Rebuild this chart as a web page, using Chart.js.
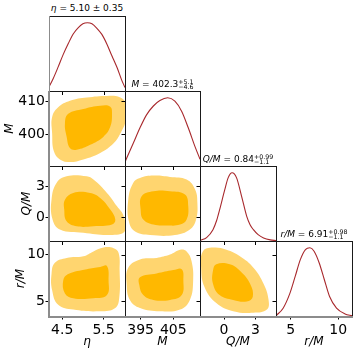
<!DOCTYPE html>
<html><head><meta charset="utf-8">
<script src="https://cdn.jsdelivr.net/npm/chart.js@4.4.1/dist/chart.umd.min.js"></script>
<style>
html,body{margin:0;padding:0;background:#fff;}
#fig{position:relative;width:357px;height:355px;overflow:hidden;background:#fff;}
#fig canvas{position:absolute;}
.ttl{position:absolute;font-family:"DejaVu Sans";font-size:9px;line-height:9px;white-space:nowrap;transform:translateX(-50%);color:#000;}
.ss{display:inline-block;vertical-align:-2.5px;font-size:6.3px;line-height:5px;text-align:left;}
.ss span{display:block;}
</style></head>
<body><div id="fig"></div>
<script>
// ---------------- data ----------------
const labels = ['η', 'M', 'Q/M', 'r/M'];
const ranges = [[4.18, 6.02], [390.2, 413.2], [-2.3, 4.97], [3.45, 11.45]];
const xTickVals = [[4.5, 5.5], [395, 405], [0, 3], [5, 10]];
const yTickVals = [[], [400, 410], [0, 3], [5, 10]];

const titleMain = ['5.10', '402.3', '0.84', '6.91'];
const titleErr = [['0.35'], ['+5.1', '−4.6'], ['+0.99', '−1.1'], ['+0.98', '−1.1']];

// 1D marginals (relative density, peak = 1)
const etaGrid = [4.18, 4.28, 4.40, 4.52, 4.65, 4.77, 4.89, 5.00, 5.11, 5.22, 5.34, 5.46, 5.58, 5.70, 5.83, 5.94, 6.02];
const etaPdf  = [0.06, 0.18, 0.35, 0.53, 0.70, 0.84, 0.93, 0.985, 1.0, 0.985, 0.92, 0.83, 0.69, 0.52, 0.34, 0.16, 0.05];
const mGrid = [390.2, 392.7, 394.8, 396.8, 398.9, 400.9, 403.3, 405.5, 407.6, 409.6, 411.7, 413.2];
const mPdf  = [0.06, 0.33, 0.56, 0.75, 0.88, 0.96, 1.0, 0.95, 0.80, 0.56, 0.28, 0.10];
const qGrid = [-2.26, -1.67, -1.06, -0.71, -0.42, 0.07, 0.39, 0.77, 1.20, 1.68, 2.17, 2.49, 2.81, 3.26, 3.78, 4.42, 4.97];
const qPdf  = [0.01, 0.05, 0.166, 0.30, 0.46, 0.754, 0.926, 1.0, 0.926, 0.656, 0.362, 0.24, 0.166, 0.093, 0.044, 0.016, 0.007];
const rGrid = [3.45, 4.20, 4.92, 5.47, 6.01, 6.55, 7.02, 7.46, 8.00, 8.54, 9.09, 9.82, 10.72, 11.45];
const rPdf  = [0.005, 0.114, 0.335, 0.58, 0.827, 0.975, 1.0, 0.95, 0.778, 0.532, 0.285, 0.114, 0.03, 0.005];

// 2D credible regions (outer = 95%, inner = 68%), vertices [x, y]
const etaM_outer = [[4.256,405.2],[4.402,408.2],[4.688,410.2],[5.095,411.2],[5.583,411.7],[5.907,411.2],[6.04,409.2],[6.04,404.2],[5.907,400.2],[5.744,397.2],[5.420,394.2],[5.012,392.2],[4.688,391.4],[4.444,392.2],[4.298,394.7],[4.256,400.2]];
const etaM_inner = [[4.646,406.2],[5.012,407.7],[5.420,408.7],[5.663,408.4],[5.705,406.2],[5.663,402.2],[5.50,399.2],[5.176,396.7],[4.851,395.2],[4.688,395.7],[4.607,399.2],[4.566,403.2]];
const etaQ_outer = [[4.363,3.33],[4.607,3.97],[5.095,3.97],[5.256,3.65],[5.583,2.36],[5.827,1.06],[5.988,0.10],[6.017,-1.36],[5.663,-1.72],[5.012,-1.51],[4.444,-1.19],[4.266,-0.22],[4.241,1.71]];
const etaQ_inner = [[4.566,1.71],[4.768,2.36],[5.176,2.36],[5.420,1.88],[5.663,0.75],[5.785,-0.22],[5.705,-0.71],[5.256,-0.87],[4.851,-0.87],[4.607,-0.39],[4.549,0.75]];
const mQ_outer = [[391.2,1.71],[392.7,3.33],[394.8,3.81],[398.9,4.04],[404.0,3.91],[409.1,3.65],[411.7,2.68],[412.4,1.39],[412.0,-0.22],[410.1,-1.19],[405.5,-1.72],[397.9,-1.72],[393.3,-1.38],[391.4,-0.42]];
const mQ_inner = [[395.3,2.03],[398.9,2.52],[404.0,2.52],[408.6,2.20],[409.6,1.06],[409.1,-0.22],[407.1,-0.71],[403.0,-0.80],[398.9,-0.71],[395.8,-0.22],[395.0,0.75]];
const etaR_outer = [[4.322,9.13],[4.607,9.65],[5.012,9.82],[5.256,10.34],[5.50,10.75],[5.744,10.68],[5.866,10.17],[5.890,8.27],[5.883,5.51],[5.785,4.31],[5.420,3.96],[4.768,4.14],[4.402,4.65],[4.256,6.20],[4.241,7.93]];
const etaR_inner = [[4.646,7.93],[5.095,8.45],[5.420,8.69],[5.583,8.79],[5.622,7.24],[5.583,5.69],[5.256,5.35],[4.768,5.35],[4.566,5.86],[4.524,7.24]];
const mR_outer = [[391.2,8.61],[394.8,9.48],[399.9,9.65],[404.0,10.0],[407.1,10.52],[409.1,10.34],[410.6,9.31],[411.1,7.24],[410.1,5.17],[407.1,4.14],[400.9,3.96],[394.8,4.31],[391.7,5.17],[390.7,6.90]];
const mR_inner = [[394.8,7.58],[399.9,7.99],[405.0,8.35],[407.6,8.45],[408.1,7.24],[407.6,5.69],[404.0,5.17],[398.9,5.17],[395.8,5.69],[394.6,6.72]];
const qR_outer = [[-2.03,10.34],[-1.06,10.75],[0.23,10.52],[1.52,9.82],[2.81,8.61],[3.78,6.90],[4.26,5.17],[4.10,4.14],[2.81,3.80],[0.87,3.96],[-0.74,4.83],[-1.87,6.55],[-2.19,8.61]];
const qR_inner = [[-0.74,8.97],[0.55,8.97],[1.52,8.27],[2.49,6.90],[2.75,5.51],[2.17,5.0],[0.87,5.17],[-0.42,5.69],[-1.06,6.90],[-1.06,8.27]];

// ---------------- layout & style ----------------
const colL = [49, 125, 200, 276], colR = [125, 200, 276, 352];
const rowT = [16, 91, 166, 241], rowB = [91, 166, 241, 316];
const yLabelCenter = [0, 10, 27, 21];
const DARK = '#ffb800', LIGHT = '#ffd56f', RED = '#a8282c';
const FONT = 'DejaVu Sans';

const pdfs = [[etaGrid, etaPdf], [mGrid, mPdf], [qGrid, qPdf], [rGrid, rPdf]];
const contours = {
  '1,0': [etaM_inner, etaM_outer], '2,0': [etaQ_inner, etaQ_outer], '2,1': [mQ_inner, mQ_outer],
  '3,0': [etaR_inner, etaR_outer], '3,1': [mR_inner, mR_outer], '3,2': [qR_inner, qR_outer]
};

const fig = document.getElementById('fig');

const framePlugin = {
  id: 'frame',
  afterDraw(chart, args, o) {
    const c = chart.ctx, a = chart.chartArea;
    const L = a.left, R = a.right, T = a.top, B = a.bottom;
    c.save();
    c.lineWidth = 1; c.strokeStyle = '#000';
    c.beginPath();
    (o.inX || []).forEach(v => { const p = Math.round(chart.scales.x.getPixelForValue(v)) + 0.5; c.moveTo(p, T); c.lineTo(p, T + 4); });
    (o.inY || []).forEach(v => { const p = Math.round(chart.scales.y.getPixelForValue(v)) + 0.5; c.moveTo(R + 0.5, p); c.lineTo(R - 3.5, p); });
    c.stroke();
    c.strokeStyle = '#1a1a1a';
    c.beginPath();
    c.moveTo(L, T + 0.5); c.lineTo(R + 1, T + 0.5);
    c.moveTo(R + 0.5, T); c.lineTo(R + 0.5, B + 1);
    if (!o.outerLeft) { c.moveTo(L + 0.5, T); c.lineTo(L + 0.5, B + 1); }
    if (!o.outerBottom) { c.moveTo(L, B + 0.5); c.lineTo(R + 1, B + 0.5); }
    c.stroke();
    c.strokeStyle = '#8c8c8c'; c.lineWidth = 2;
    c.beginPath();
    if (o.outerLeft) { c.moveTo(L, T); c.lineTo(L, B + 2); }
    if (o.outerBottom) { c.moveTo(L - 1, B + 1); c.lineTo(R + 1, B + 1); }
    c.stroke();
    c.restore();
  }
};

function axisCfg(kind, range, tickVals, show, title, titlePad) {
  return {
    type: 'linear', min: range[0], max: range[1], display: show,
    afterBuildTicks: s => { s.ticks = tickVals.map(v => ({ value: v })); },
    grid: { display: true, drawOnChartArea: false, drawTicks: true, tickLength: 3.5, color: '#000', lineWidth: 1 },
    border: { display: false },
    ticks: { color: '#000', padding: kind === 'x' ? 2 : 0.5, font: { family: FONT, size: 14 }, maxRotation: 0, autoSkip: false },
    title: { display: !!title, text: title || '', color: '#000', font: { family: FONT, size: 12, style: 'italic', lineHeight: 1.2 }, padding: titlePad || 0 },
    afterFit: s => {
      s.paddingTop = 0; s.paddingBottom = 0; s.paddingLeft = 0; s.paddingRight = 0;
      if (show) { if (kind === 'x') s.height = 39; else s.width = 49; }
    }
  };
}

function addCanvas(left, top, w, h) {
  const c = document.createElement('canvas');
  c.width = w; c.height = h;
  c.style.left = left + 'px'; c.style.top = top + 'px';
  c.style.width = w + 'px'; c.style.height = h + 'px';
  fig.appendChild(c);
  return c;
}

// closed smooth outline: wrap neighbours so the spline has no corner where it closes
function closed(pts) {
  const n = pts.length;
  const seq = [pts[n - 1], ...pts, pts[0], pts[1]];
  return seq.map(p => ({ x: p[0], y: p[1] }));
}

for (let i = 0; i < 4; i++) {
  for (let j = 0; j <= i; j++) {
    const diag = i === j;
    const showX = i === 3;
    const showY = !diag && j === 0;
    const mL = showY ? 49 : 0;
    const mB = showX ? 39 : 1;
    const w = colR[j] - colL[j] + mL + 1;
    const h = rowB[i] - rowT[i] + mB;
    const cv = addCanvas(colL[j] - mL, rowT[i], w, h);

    let datasets;
    if (diag) {
      const [g, p] = pdfs[i];
      datasets = [{
        data: g.map((x, k) => ({ x, y: p[k] })),
        borderColor: RED, borderWidth: 1.1, pointRadius: 0, fill: false,
        cubicInterpolationMode: 'monotone'
      }];
    } else {
      const [inner, outer] = contours[i + ',' + j];
      datasets = [
        { data: closed(inner), backgroundColor: DARK, borderColor: DARK, borderWidth: 0, pointRadius: 0, fill: 'shape', tension: 0.42 },
        { data: closed(outer), backgroundColor: LIGHT, borderColor: LIGHT, borderWidth: 0, pointRadius: 0, fill: 'shape', tension: 0.42 }
      ];
    }

    const xPad = { top: 0, bottom: 6.3 };
    const yPad = { top: yLabelCenter[i] - 7.2, bottom: 0 };
    new Chart(cv, {
      type: 'line',
      data: { datasets },
      options: {
        responsive: false, animation: false, devicePixelRatio: 1, events: [],
        layout: { padding: { left: 0, top: 0, right: 1, bottom: showX ? 0 : 1 } },
        elements: { line: { capBezierPoints: false } },
        plugins: {
          legend: { display: false }, tooltip: { enabled: false },
          frame: { inX: diag ? [] : xTickVals[j], inY: diag ? [] : yTickVals[i], outerLeft: j === 0, outerBottom: i === 3 }
        },
        scales: {
          x: axisCfg('x', ranges[j], xTickVals[j], showX, showX ? labels[j] : '', xPad),
          y: diag ? { type: 'linear', min: 0, max: 1.1, display: false }
                  : axisCfg('y', ranges[i], yTickVals[i], showY, showY ? labels[i] : '', yPad)
        }
      },
      plugins: [framePlugin]
    });
  }
}

// titles above the diagonal panels
for (let k = 0; k < 4; k++) {
  const d = document.createElement('div');
  d.className = 'ttl';
  d.style.left = ((colL[k] + colR[k]) / 2) + 'px';
  d.style.top = (rowT[k] - 12.1) + 'px';
  const name = '<i>' + labels[k] + '</i>';
  if (titleErr[k].length === 1) {
    d.innerHTML = name + ' = ' + titleMain[k] + ' ± ' + titleErr[k][0];
  } else {
    d.innerHTML = name + ' = ' + titleMain[k] + '<span class="ss"><span>' + titleErr[k][0] + '</span><span>' + titleErr[k][1] + '</span></span>';
  }
  fig.appendChild(d);
}
</script></body></html>
